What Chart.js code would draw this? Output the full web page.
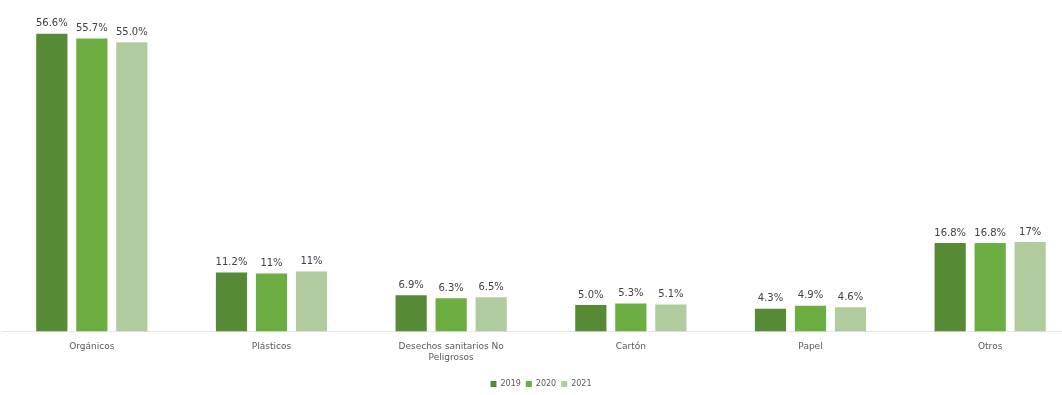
<!DOCTYPE html>
<html><head><meta charset="utf-8">
<script src="https://cdn.jsdelivr.net/npm/chart.js@4.4.1/dist/chart.umd.min.js"></script>
<style>html,body{margin:0;padding:0;background:#fff;overflow:hidden;width:1062px;height:395px;}#c{display:block;}</style>
</head><body>
<canvas id="c" width="1080" height="398"></canvas>
<script>
const categories = ["Orgánicos", "Plásticos", ["Desechos sanitarios No", "Peligrosos"], "Cartón", "Papel", "Otros"];
const years = ["2019", "2020", "2021"];
const values2019 = [56.6, 11.2, 6.9, 5.0, 4.3, 16.8];
const values2020 = [55.7, 11.0, 6.3, 5.3, 4.9, 16.8];
const values2021 = [55.0, 11.4, 6.5, 5.1, 4.6, 17.0];
const labels2019 = ["56.6%", "11.2%", "6.9%", "5.0%", "4.3%", "16.8%"];
const labels2020 = ["55.7%", "11%", "6.3%", "5.3%", "4.9%", "16.8%"];
const labels2021 = ["55.0%", "11%", "6.5%", "5.1%", "4.6%", "17%"];
const colors = ["#568a34", "#6cae42", "#b0cc9e"];

const seriesValues = [values2019, values2020, values2021];
const seriesLabels = [labels2019, labels2020, labels2021];

const valueLabelPlugin = {
  id: 'valueLabels',
  afterDatasetsDraw(chart) {
    const ctx = chart.ctx;
    ctx.save();
    ctx.font = '10px "DejaVu Sans", sans-serif';
    ctx.fillStyle = '#404040';
    ctx.textAlign = 'center';
    ctx.textBaseline = 'bottom';
    chart.data.datasets.forEach((ds, i) => {
      const meta = chart.getDatasetMeta(i);
      meta.data.forEach((bar, j) => {
        ctx.fillText(seriesLabels[i][j], bar.x, bar.y - 5);
      });
    });
    ctx.restore();
  }
};

new Chart(document.getElementById('c'), {
  type: 'bar',
  data: {
    labels: categories,
    datasets: years.map((y, i) => ({
      label: y,
      data: seriesValues[i],
      backgroundColor: colors[i],
      borderWidth: 0,
      categoryPercentage: 0.668,
      barPercentage: 0.78
    }))
  },
  options: {
    responsive: false,
    animation: false,
    layout: { padding: { top: 16, left: 2, right: 0, bottom: 0 } },
    scales: {
      x: {
        grid: { display: false },
        border: { display: true, color: '#e6e6e6', width: 1 },
        ticks: { color: '#595959', font: { size: 9, family: '"DejaVu Sans", sans-serif' }, padding: 2, maxRotation: 0, autoSkip: false },
        afterFit: (scale) => { scale.height += 10; }
      },
      y: {
        display: false,
        min: 0,
        max: 60
      }
    },
    plugins: {
      legend: {
        position: 'bottom',
        labels: { boxWidth: 6, boxHeight: 6, padding: 5, color: '#595959', font: { size: 8, family: '"DejaVu Sans", sans-serif' } }
      },
      tooltip: { enabled: false }
    }
  },
  plugins: [valueLabelPlugin]
});
</script>
</body></html>
